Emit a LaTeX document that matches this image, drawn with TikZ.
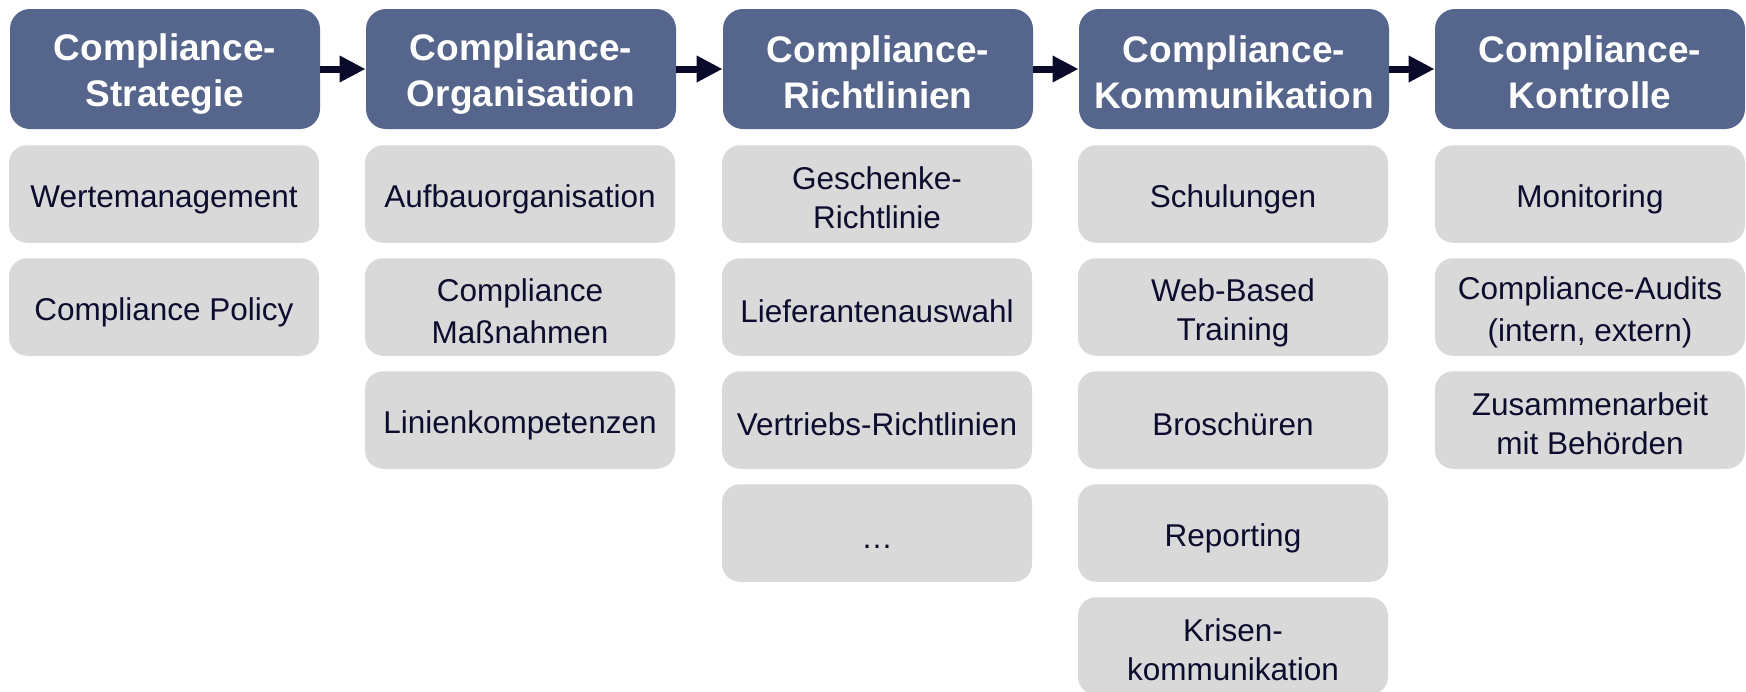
\documentclass[tikz,border=0pt]{standalone}
\usepackage{fontspec}
\setmainfont{Liberation Sans}
\usetikzlibrary{arrows.meta}

\definecolor{headblue}{HTML}{55658B}
\definecolor{itemgray}{HTML}{D9D9D9}
\definecolor{inkdark}{HTML}{0C0C2E}
\definecolor{arrowink}{HTML}{0A0A2A}

% line struts so one- and two-line labels sit at the same optical centre
\newcommand\hdstrut{\rule[-1.5pt]{0pt}{19.8pt}}
\newcommand\itstrut{\rule[-1.5pt]{0pt}{18.3pt}}

\begin{document}
\begin{tikzpicture}[x=0.5pt,y=-0.5pt,
  head/.style={rectangle, rounded corners=10pt, fill=headblue, text=white,
    inner sep=0pt, minimum width=155pt, minimum height=60pt, align=center,
    font=\bfseries\fontsize{18.5pt}{21.5pt}\selectfont},
  item/.style={rectangle, rounded corners=9pt, fill=itemgray, text=inkdark,
    inner sep=0pt, minimum width=155pt, minimum height=48.75pt, align=center,
    font=\fontsize{15.75pt}{19.5pt}\selectfont},
  flow/.style={draw=arrowink, line width=3.5pt,
    -{Triangle[length=13pt,width=12.5pt]}}]

\useasboundingbox (0,0) rectangle (1746,691);
\begin{scope}
\clip (0,0) rectangle (1746,691);

% phase headers
\node[head] (h1) at (165,69)  {\hdstrut Compliance-\\\hdstrut Strategie};
\node[head] (h2) at (521,69)  {\hdstrut Compliance-\\\hdstrut Organisation};
\node[head] (h3) at (878,69)  {\hdstrut Compliance-\\\hdstrut Richtlinien};
\node[head] (h4) at (1234,69) {\hdstrut Compliance-\\\hdstrut Kommunikation};
\node[head] (h5) at (1590,69) {\hdstrut Compliance-\\\hdstrut Kontrolle};

% flow between phases
\draw[flow] (h1) -- (h2);
\draw[flow] (h2) -- (h3);
\draw[flow] (h3) -- (h4);
\draw[flow] (h4) -- (h5);

% Strategie
\node[item] (s1) at (164,194) {\itstrut Wertemanagement};
\node[item] (s2) at (164,307) {\itstrut Compliance Policy};

% Organisation
\node[item] (o1) at (520,194) {\itstrut Aufbauorganisation};
\node[item] (o2) at (520,307) {\itstrut Compliance\\\itstrut Maßnahmen};
\node[item] (o3) at (520,420) {\itstrut Linienkompetenzen};

% Richtlinien
\node[item] (r1) at (877,194) {\itstrut Geschenke-\\\itstrut Richtlinie};
\node[item] (r2) at (877,307) {\itstrut Lieferantenauswahl};
\node[item] (r3) at (877,420) {\itstrut Vertriebs-Richtlinien};
\node[item] (r4) at (877,533) {\itstrut …};

% Kommunikation
\node[item] (k1) at (1233,194) {\itstrut Schulungen};
\node[item] (k2) at (1233,307) {\itstrut Web-Based\\\itstrut Training};
\node[item] (k3) at (1233,420) {\itstrut Broschüren};
\node[item] (k4) at (1233,533) {\itstrut Reporting};
\node[item] (k5) at (1233,646) {\itstrut Krisen-\\\itstrut kommunikation};

% Kontrolle
\node[item] (c1) at (1590,194) {\itstrut Monitoring};
\node[item] (c2) at (1590,307) {\itstrut Compliance-Audits\\\itstrut (intern, extern)};
\node[item] (c3) at (1590,420) {\itstrut Zusammenarbeit\\\itstrut mit Behörden};
\end{scope}
\end{tikzpicture}
\end{document}
